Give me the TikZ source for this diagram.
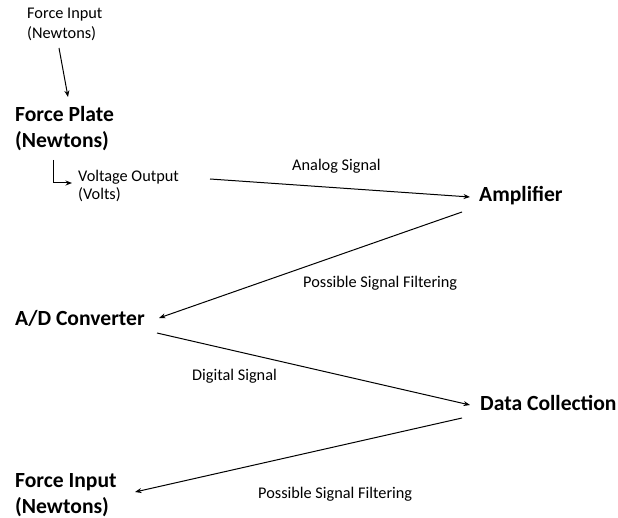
\documentclass[tikz,border=0pt]{standalone}
\usepackage{fontspec}
\setmainfont{Carlito}
\usetikzlibrary{arrows.meta,calc}
\tikzset{
  smalltext/.style={font=\fontsize{16.3}{20}\selectfont, inner sep=0pt, anchor=base west, align=left},
  bigtext/.style={font=\bfseries\fontsize{21.6}{26}\selectfont, inner sep=0pt, anchor=base west, align=left},
  arr/.style={line width=1pt, -{Stealth[length=6.5pt,width=5pt]}}
}
\begin{document}
\begin{tikzpicture}[x=1pt,y=-1pt]
\useasboundingbox (0,0) rectangle (618,518);
\node[smalltext] (fin) at (27,39) {Force Input\\(Newtons)};
\node[bigtext] (fp) at (15,148) {Force Plate\\(Newtons)};
\node[smalltext, font=\fontsize{16.3}{18}\selectfont] (vo) at (78,200) {Voltage Output\\(Volts)};
\node[smalltext] (as) at (292,171) {Analog Signal};
\node[bigtext] (amp) at (479,202) {Amplifier};
\node[smalltext] (psf1) at (303,288) {Possible Signal Filtering};
\node[bigtext] (ad) at (15,326) {A/D Converter};
\node[smalltext] (ds) at (192,380) {Digital Signal};
\node[bigtext] (dc) at (480,410) {Data Collection};
\node[smalltext] (psf2) at (258,498) {Possible Signal Filtering};
\node[bigtext] (fi2) at (15,513) {Force Input\\(Newtons)};

\draw[arr] ($(fin.base west)+(32,9)$) -- ($(fp.base west)+(53,-51)$);
\draw[arr] ($(fp.base west)+(38,12)$) |- ($(vo.base west)+(-6,-17)$);
\draw[arr] ($(vo.base west)+(132,-21)$) -- ($(amp.base west)+(-9,-5)$);
\draw[arr] ($(amp.base west)+(-17,10)$) -- ($(ad.base west)+(144,-8)$);
\draw[arr] ($(ad.base west)+(142,7)$) -- ($(dc.base west)+(-10,-5)$);
\draw[arr] ($(dc.base west)+(-18,8)$) -- ($(fi2.base west)+(120,-21)$);
\end{tikzpicture}
\end{document}
